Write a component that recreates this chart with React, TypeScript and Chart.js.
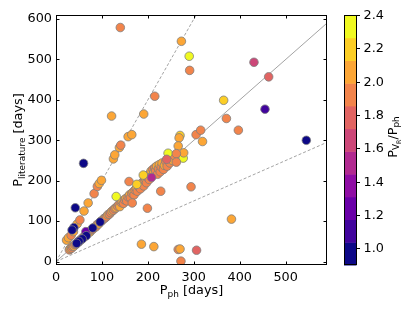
import React, { useEffect, useRef } from "react";
import { Chart, registerables } from "chart.js";

Chart.register(...registerables);

const FONT = "'DejaVu Sans', 'Liberation Sans', sans-serif";
const FS = 12.8;

// Axis ticks
const X_TICKS = [0, 100, 200, 300, 400, 500];
const Y_TICKS = [0, 100, 200, 300, 400, 500, 600];
const X_MIN = 0;
const X_MAX = 590;
const Y_MIN = -8.5;
const Y_MAX = 610;

// Colour bar
const CB_TICKS = [1.0, 1.2, 1.4, 1.6, 1.8, 2.0, 2.2, 2.4];
const CB_MIN = 0.9;
const CB_MAX = 2.4;
const CB_COLORS = [
  "#0d0887", "#41049d", "#6a00a8", "#8f0da4", "#b12a90", "#cc4778",
  "#e16462", "#f2844b", "#fca636", "#fcce25", "#f0f921",
];

// Reference lines (P_lit = P_ph, 2 P_ph, 0.5 P_ph)
const LINE_1TO1_X = [0, 620];
const LINE_1TO1_Y = [0, 620];
const LINE_2TO1_X = [0, 310];
const LINE_2TO1_Y = [0, 620];
const LINE_HALF_X = [0, 620];
const LINE_HALF_Y = [0, 310];

// Data: P_ph [days], P_literature [days], P_VR/P_ph
const P_PH = [
  // main 1:1 sequence
  29, 31, 34, 36, 39, 41, 44, 47, 50, 53, 56, 59, 62, 65, 68, 71, 74, 77, 80, 84,
  87, 90, 93, 97, 100, 104, 107, 110, 113, 116, 119, 122, 125, 128, 131, 134, 137, 139, 142, 144,
  147, 149, 152, 154, 157, 160, 162, 165, 168, 170, 172, 175, 177, 180, 182, 184, 187, 189, 191, 193,
  195, 197, 199, 201, 203, 205, 207, 209, 211, 213, 215, 217, 219, 221, 223, 225, 227, 229, 231, 234,
  236, 239, 242, 245, 248, 251, 254, 258,
  // 2:1 sequence
  23, 27, 33, 38, 46, 52, 61, 70, 83, 90, 94, 99, 125, 128, 138, 141, 157, 165,
  // scattered
  140, 273, 290, 291, 215, 121, 191, 270, 268, 266, 305, 315, 319, 244, 277, 278, 262, 262, 241,
  431, 463, 365, 455, 371, 397, 545, 382, 294, 266, 270, 306, 272, 186, 213, 228, 199, 159, 166,
  131, 176, 190, 208,
  // low ratio
  60, 42, 39, 35, 65, 96, 80, 66, 57, 50, 45,
];

const P_LIT = [
  29, 32, 33, 37, 38, 42, 43, 48, 49, 54, 55, 60, 61, 66, 68, 72, 73, 78, 80, 85,
  86, 92, 93, 99, 101, 106, 108, 111, 116, 117, 121, 125, 127, 131, 133, 137, 141, 136, 146, 149,
  144, 153, 156, 150, 160, 165, 158, 169, 172, 165, 177, 181, 174, 185, 189, 180, 193, 197, 187, 201,
  205, 195, 209, 214, 203, 218, 224, 212, 228, 220, 232, 225, 236, 216, 230, 240, 222, 234, 244, 228,
  238, 248, 236, 252, 244, 258, 250, 262,
  53, 59, 65, 74, 93, 103, 125, 145, 168, 186, 193, 201, 254, 264, 282, 288, 309, 314,
  579, 545, 508, 473, 409, 360, 365, 312, 306, 286, 314, 325, 297, 268, 256, 269, 267, 246, 253,
  493, 457, 399, 377, 354, 325, 300, 105, 185, 30, 31, 28, 1, 43, 37, 174, 132, 198, 145,
  161, 191, 214, 208,
  243, 133, 84, 78, 74, 98, 83, 64, 56, 50, 45,
];

const RATIO = [
  1.95, 2.05, 1.95, 1.95, 2.05, 1.95, 1.95, 2.05, 1.95, 1.95, 2.05, 1.95, 1.95, 2.05, 1.95, 1.95, 2.05, 1.95, 1.95, 2.05,
  1.95, 1.95, 2.05, 1.95, 1.95, 2.05, 1.95, 1.95, 2.05, 1.95, 1.95, 2.05, 1.95, 1.95, 2.05, 1.95, 1.95, 2.05, 1.95, 2.05,
  1.95, 1.95, 2.05, 1.95, 1.95, 2.05, 1.95, 1.95, 2.05, 1.95, 1.95, 2.05, 1.95, 1.95, 2.05, 1.95, 1.95, 2.05, 1.95, 1.95,
  2.05, 1.95, 1.95, 2.05, 1.95, 1.95, 2.05, 1.95, 1.95, 2.05, 1.95, 1.95, 2.05, 1.95, 1.95, 2.05, 1.95, 1.95, 2.05, 1.95,
  2.05, 1.95, 1.95, 2.05, 1.95, 1.95, 2.05, 1.95,
  2.05, 2.05, 1.95, 2.05, 2.05, 1.95, 2.05, 2.05, 1.95, 1.95, 2.05, 2.05, 2.05, 2.05, 2.05, 1.95, 2.05, 2.05,
  1.95, 2.05, 2.35, 1.95, 1.95, 2.05, 2.05, 2.2, 2.05, 2.05, 1.95, 1.95, 2.05, 2.35, 2.35, 2.05, 1.95, 1.95, 1.8,
  1.65, 1.8, 2.2, 1.1, 1.95, 1.95, 0.95, 2.05, 1.95, 1.95, 2.05, 1.8, 1.95, 2.05, 2.05, 1.95, 1.95, 1.95, 1.95,
  2.35, 2.2, 2.2, 1.5,
  0.95, 0.95, 0.95, 0.95, 1.25, 0.95, 0.95, 0.95, 0.95, 0.95, 0.95,
];

function binColor(v: number): string {
  const n = CB_COLORS.length;
  let i = Math.floor(((v - CB_MIN) / (CB_MAX - CB_MIN)) * n);
  i = Math.max(0, Math.min(n - 1, i));
  return CB_COLORS[i];
}

type Seg = { t: string; l: number };

function segFont(l: number) {
  const size = FS * Math.pow(0.7, l);
  return size;
}

function segShift(l: number) {
  if (l === 0) return 0;
  if (l === 1) return FS * 0.22;
  return FS * 0.22 + FS * 0.7 * 0.22;
}

function richWidth(ctx: CanvasRenderingContext2D, segs: Seg[]) {
  let w = 0;
  for (const s of segs) {
    ctx.font = `${segFont(s.l)}px ${FONT}`;
    w += ctx.measureText(s.t).width;
  }
  return w;
}

function drawRich(ctx: CanvasRenderingContext2D, segs: Seg[], cx: number, baseY: number) {
  const w = richWidth(ctx, segs);
  let x = cx - w / 2;
  ctx.textAlign = "left";
  ctx.textBaseline = "alphabetic";
  for (const s of segs) {
    ctx.font = `${segFont(s.l)}px ${FONT}`;
    ctx.fillText(s.t, x, baseY + segShift(s.l));
    x += ctx.measureText(s.t).width;
  }
}

const decorPlugin = {
  id: "decor",
  afterDraw(chart: any) {
    const { ctx, chartArea: a, scales } = chart;
    const xs = scales.x;
    const ys = scales.y;
    ctx.save();
    ctx.fillStyle = "#000";
    ctx.strokeStyle = "#000";
    ctx.lineWidth = 1;
    const L = Math.round(a.left), T = Math.round(a.top), R = Math.round(a.right), B = Math.round(a.bottom);
    ctx.strokeRect(L + 0.5, T + 0.5, R - L - 1, B - T - 1);

    // inward ticks on all sides
    const tl = 3.5;
    ctx.beginPath();
    for (const v of X_TICKS) {
      const px = Math.round(xs.getPixelForValue(v)) + 0.5;
      ctx.moveTo(px, B);
      ctx.lineTo(px, B - tl);
      ctx.moveTo(px, T);
      ctx.lineTo(px, T + tl);
    }
    for (const v of Y_TICKS) {
      const py = Math.round(ys.getPixelForValue(v)) + 0.5;
      ctx.moveTo(L, py);
      ctx.lineTo(L + tl, py);
      ctx.moveTo(R, py);
      ctx.lineTo(R - tl, py);
    }
    ctx.stroke();

    // axis titles
    drawRich(ctx, [{ t: "P", l: 0 }, { t: "ph", l: 1 }, { t: " [days]", l: 0 }], (a.left + a.right) / 2, 294);
    ctx.save();
    ctx.translate(22, (a.top + a.bottom) / 2);
    ctx.rotate(-Math.PI / 2);
    drawRich(ctx, [{ t: "P", l: 0 }, { t: "literature", l: 1 }, { t: " [days]", l: 0 }], 0, 0);
    ctx.restore();

    // colour bar
    const cbL = 344, cbW = 12.5;
    const cbT = a.top, cbB = a.bottom;
    const vy = (v: number) => cbB - ((v - CB_MIN) / (CB_MAX - CB_MIN)) * (cbB - cbT);
    const n = CB_COLORS.length;
    for (let i = 0; i < n; i++) {
      const v0 = CB_MIN + ((CB_MAX - CB_MIN) * i) / n;
      const v1 = CB_MIN + ((CB_MAX - CB_MIN) * (i + 1)) / n;
      ctx.fillStyle = CB_COLORS[i];
      ctx.fillRect(cbL, vy(v1), cbW, vy(v0) - vy(v1) + 0.5);
    }
    ctx.strokeStyle = "#000";
    ctx.strokeRect(cbL + 0.5, Math.round(cbT) + 0.5, cbW - 0.5, Math.round(cbB - cbT) - 1);
    ctx.beginPath();
    ctx.fillStyle = "#000";
    ctx.font = `${FS}px ${FONT}`;
    ctx.textAlign = "left";
    ctx.textBaseline = "middle";
    for (const v of CB_TICKS) {
      const py = Math.round(vy(v)) + 0.5;
      ctx.moveTo(cbL + cbW, py);
      ctx.lineTo(cbL + cbW + 3.5, py);
      ctx.fillText(v.toFixed(1), cbL + cbW + 7, py + 0.5);
    }
    ctx.stroke();

    ctx.save();
    ctx.translate(396.5, 137);
    ctx.rotate(-Math.PI / 2);
    drawRich(ctx, [{ t: "P", l: 0 }, { t: "V", l: 1 }, { t: "R", l: 2 }, { t: "/P", l: 0 }, { t: "ph", l: 1 }], 0, 0);
    ctx.restore();

    ctx.restore();
  },
};

export default function App() {
  const ref = useRef<HTMLCanvasElement | null>(null);

  useEffect(() => {
    if (!ref.current) return;
    const points = P_PH.map((x, i) => ({ x, y: P_LIT[i] }));
    const colors = RATIO.map(binColor);
    const mk = (xa: number[], ya: number[]) => xa.map((x, i) => ({ x, y: ya[i] }));
    const chart = new Chart(ref.current, {
      type: "scatter",
      data: {
        datasets: [
          {
            type: "scatter",
            data: points,
            pointRadius: 4.3,
            pointHoverRadius: 4.3,
            pointBackgroundColor: colors,
            pointBorderColor: "#7f7f7f",
            pointBorderWidth: 0.8,
            order: 0,
          } as any,
          {
            type: "line",
            data: mk(LINE_1TO1_X, LINE_1TO1_Y),
            borderColor: "#8c8c8c",
            borderWidth: 0.8,
            pointRadius: 0,
            fill: false,
            order: 1,
          } as any,
          {
            type: "line",
            data: mk(LINE_2TO1_X, LINE_2TO1_Y),
            borderColor: "#8c8c8c",
            borderWidth: 0.8,
            borderDash: [3, 2],
            pointRadius: 0,
            fill: false,
            order: 2,
          } as any,
          {
            type: "line",
            data: mk(LINE_HALF_X, LINE_HALF_Y),
            borderColor: "#8c8c8c",
            borderWidth: 0.8,
            borderDash: [3, 2],
            pointRadius: 0,
            fill: false,
            order: 3,
          } as any,
        ],
      },
      options: {
        animation: false,
        responsive: false,
        maintainAspectRatio: false,
        events: [],
        layout: { padding: { left: 0, right: 88, top: 15, bottom: 0 } },
        plugins: { legend: { display: false }, tooltip: { enabled: false } },
        scales: {
          x: {
            type: "linear",
            min: X_MIN,
            max: X_MAX,
            grid: { display: false, drawTicks: false },
            border: { display: false },
            ticks: { padding: 5, color: "#000", font: { family: FONT, size: FS } },
            afterBuildTicks: (s: any) => {
              s.ticks = X_TICKS.map((v) => ({ value: v }));
            },
            afterFit: (s: any) => {
              s.height = 46;
            },
          },
          y: {
            type: "linear",
            min: Y_MIN,
            max: Y_MAX,
            grid: { display: false, drawTicks: false },
            border: { display: false },
            ticks: { padding: 4, color: "#000", font: { family: FONT, size: FS } },
            afterBuildTicks: (s: any) => {
              s.ticks = Y_TICKS.map((v) => ({ value: v }));
            },
            afterFit: (s: any) => {
              s.width = 56;
            },
          },
        },
      } as any,
      plugins: [decorPlugin],
    });
    return () => chart.destroy();
  }, []);

  return (
    <div style={{ position: "absolute", left: 0, top: 0, width: 415, height: 311, background: "#fff" }}>
      <canvas ref={ref} width={415} height={311} />
    </div>
  );
}
